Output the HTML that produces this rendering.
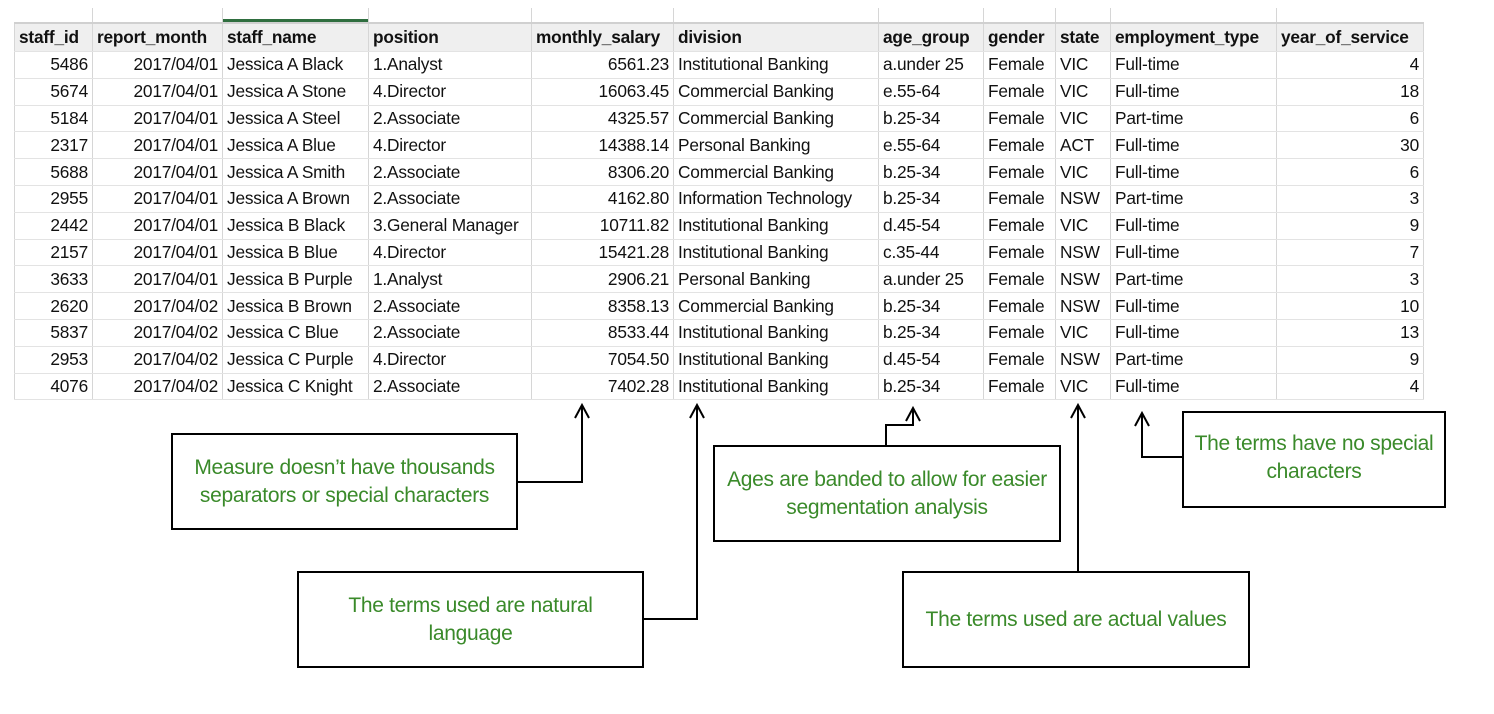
<!DOCTYPE html>
<html><head><meta charset="utf-8"><style>
body{margin:0;background:#fff;width:1494px;height:714px;position:relative;overflow:hidden;font-family:"Liberation Sans",Arial,sans-serif;}
table{position:absolute;left:14px;top:22px;border-collapse:collapse;font-size:17.3px;color:#111;table-layout:fixed;width:1409px;}
td,th{height:25.8px;padding:0 4px;border-left:1px solid #d6d6d6;border-right:1px solid #d6d6d6;border-bottom:1px solid #e3e3e3;white-space:nowrap;overflow:hidden;letter-spacing:-0.2px;}
th{background:#efefef;font-weight:bold;text-align:left;height:27px;border-top:2px solid #d0d0d0;}
.r{text-align:right}
.top{position:absolute;top:8px;height:14px;width:1px;background:#d6d6d6}
.box{position:absolute;border:2px solid #000;box-sizing:border-box;display:flex;align-items:center;justify-content:center;text-align:center;color:#3a8a2a;font-family:"Liberation Sans Narrow","Liberation Sans",sans-serif;font-size:21px;line-height:28px;letter-spacing:-0.3px;}
</style></head><body>
<div style="position:absolute;left:223px;top:19px;width:146px;height:3px;background:#2f6e3f"></div>
<div class="top" style="left:92px"></div><div class="top" style="left:222px"></div><div class="top" style="left:368px"></div><div class="top" style="left:531px"></div><div class="top" style="left:673px"></div><div class="top" style="left:878px"></div><div class="top" style="left:983px"></div><div class="top" style="left:1055px"></div><div class="top" style="left:1110px"></div><div class="top" style="left:1276px"></div>
<table>
<colgroup><col style="width:78px"><col style="width:130px"><col style="width:146px"><col style="width:163px"><col style="width:142px"><col style="width:205px"><col style="width:105px"><col style="width:72px"><col style="width:55px"><col style="width:166px"><col style="width:147px"></colgroup>
<tr><th>staff_id</th><th>report_month</th><th>staff_name</th><th>position</th><th>monthly_salary</th><th>division</th><th>age_group</th><th>gender</th><th>state</th><th>employment_type</th><th>year_of_service</th></tr>
<tr><td class="r">5486</td><td class="r">2017/04/01</td><td>Jessica A Black</td><td>1.Analyst</td><td class="r">6561.23</td><td>Institutional Banking</td><td>a.under 25</td><td>Female</td><td>VIC</td><td>Full-time</td><td class="r">4</td></tr>
<tr><td class="r">5674</td><td class="r">2017/04/01</td><td>Jessica A Stone</td><td>4.Director</td><td class="r">16063.45</td><td>Commercial Banking</td><td>e.55-64</td><td>Female</td><td>VIC</td><td>Full-time</td><td class="r">18</td></tr>
<tr><td class="r">5184</td><td class="r">2017/04/01</td><td>Jessica A Steel</td><td>2.Associate</td><td class="r">4325.57</td><td>Commercial Banking</td><td>b.25-34</td><td>Female</td><td>VIC</td><td>Part-time</td><td class="r">6</td></tr>
<tr><td class="r">2317</td><td class="r">2017/04/01</td><td>Jessica A Blue</td><td>4.Director</td><td class="r">14388.14</td><td>Personal Banking</td><td>e.55-64</td><td>Female</td><td>ACT</td><td>Full-time</td><td class="r">30</td></tr>
<tr><td class="r">5688</td><td class="r">2017/04/01</td><td>Jessica A Smith</td><td>2.Associate</td><td class="r">8306.20</td><td>Commercial Banking</td><td>b.25-34</td><td>Female</td><td>VIC</td><td>Full-time</td><td class="r">6</td></tr>
<tr><td class="r">2955</td><td class="r">2017/04/01</td><td>Jessica A Brown</td><td>2.Associate</td><td class="r">4162.80</td><td>Information Technology</td><td>b.25-34</td><td>Female</td><td>NSW</td><td>Part-time</td><td class="r">3</td></tr>
<tr><td class="r">2442</td><td class="r">2017/04/01</td><td>Jessica B Black</td><td>3.General Manager</td><td class="r">10711.82</td><td>Institutional Banking</td><td>d.45-54</td><td>Female</td><td>VIC</td><td>Full-time</td><td class="r">9</td></tr>
<tr><td class="r">2157</td><td class="r">2017/04/01</td><td>Jessica B Blue</td><td>4.Director</td><td class="r">15421.28</td><td>Institutional Banking</td><td>c.35-44</td><td>Female</td><td>NSW</td><td>Full-time</td><td class="r">7</td></tr>
<tr><td class="r">3633</td><td class="r">2017/04/01</td><td>Jessica B Purple</td><td>1.Analyst</td><td class="r">2906.21</td><td>Personal Banking</td><td>a.under 25</td><td>Female</td><td>NSW</td><td>Part-time</td><td class="r">3</td></tr>
<tr><td class="r">2620</td><td class="r">2017/04/02</td><td>Jessica B Brown</td><td>2.Associate</td><td class="r">8358.13</td><td>Commercial Banking</td><td>b.25-34</td><td>Female</td><td>NSW</td><td>Full-time</td><td class="r">10</td></tr>
<tr><td class="r">5837</td><td class="r">2017/04/02</td><td>Jessica C Blue</td><td>2.Associate</td><td class="r">8533.44</td><td>Institutional Banking</td><td>b.25-34</td><td>Female</td><td>VIC</td><td>Full-time</td><td class="r">13</td></tr>
<tr><td class="r">2953</td><td class="r">2017/04/02</td><td>Jessica C Purple</td><td>4.Director</td><td class="r">7054.50</td><td>Institutional Banking</td><td>d.45-54</td><td>Female</td><td>NSW</td><td>Part-time</td><td class="r">9</td></tr>
<tr><td class="r">4076</td><td class="r">2017/04/02</td><td>Jessica C Knight</td><td>2.Associate</td><td class="r">7402.28</td><td>Institutional Banking</td><td>b.25-34</td><td>Female</td><td>VIC</td><td>Full-time</td><td class="r">4</td></tr>
</table>
<svg style="position:absolute;left:0;top:0" width="1494" height="714" fill="none" stroke="#000" stroke-width="2">
<polyline points="517,482 582,482 582,405"/><polyline points="575,418 582,405 589,418"/>
<polyline points="643,619 697,619 697,405"/><polyline points="690,418 697,405 704,418"/>
<polyline points="886,445 886,425 913,425 913,408"/><polyline points="906,421 913,408 920,421"/>
<polyline points="1078,571 1078,405"/><polyline points="1071,418 1078,405 1085,418"/>
<polyline points="1182,457 1142,457 1142,413"/><polyline points="1135,426 1142,413 1149,426"/>
</svg>
<div class="box" style="left:171px;top:433px;width:347px;height:97px">Measure doesn’t have thousands<br>separators or special characters</div>
<div class="box" style="left:297px;top:571px;width:347px;height:97px;padding-bottom:0px">The terms used are natural<br>language</div>
<div class="box" style="left:713px;top:445px;width:348px;height:97px;padding-bottom:0px">Ages are banded to allow for easier<br>segmentation analysis</div>
<div class="box" style="left:902px;top:571px;width:348px;height:97px">The terms used are actual values</div>
<div class="box" style="left:1182px;top:411px;width:264px;height:97px;padding-bottom:4px">The terms have no special<br>characters</div>
</body></html>
